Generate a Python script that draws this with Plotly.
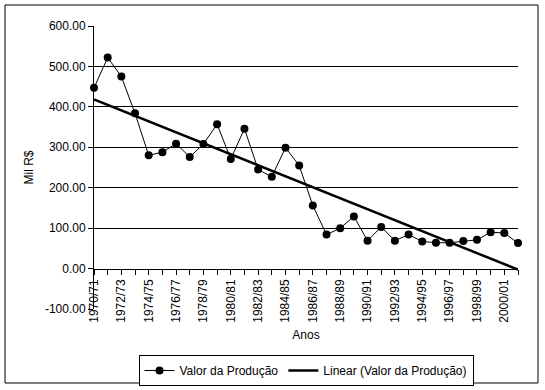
import numpy as np
import plotly.graph_objects as go

categories = [f"{y}/{str(y + 1)[-2:]}" for y in range(1970, 2002)]
valor = [447, 522, 475, 384, 280, 288, 309, 276, 308, 357, 271, 346, 245, 227,
         299, 255, 156, 84, 100, 129, 69, 103, 69, 84, 67, 64, 64, 68, 71, 90, 88, 63]
tick_text = [c if i % 2 == 0 else "" for i, c in enumerate(categories)]
y_ticks = [-100, 0, 100, 200, 300, 400, 500, 600]
grid_ticks = [100, 200, 300, 400, 500]

idx = np.arange(len(valor))
slope, intercept = np.polyfit(idx, valor, 1)
trend = slope * idx + intercept

FONT = "Liberation Sans, Arial, sans-serif"

fig = go.Figure()
fig.add_trace(go.Scatter(
    x=categories, y=valor, mode="lines+markers", name="Valor da Produção",
    line=dict(color="black", width=1),
    marker=dict(color="black", size=8, symbol="circle"),
    cliponaxis=False,
))
fig.add_trace(go.Scatter(
    x=categories, y=trend, mode="lines", name="Linear (Valor da Produção)",
    line=dict(color="black", width=2.5),
    cliponaxis=False,
))

L, R, T, B = 94, 518, 26, 309
W, H = 545, 390
pw, ph = R - L, B - T

def px(x):
    return (x - L) / pw

def py(y):
    return (B - y) / ph

fig.update_layout(
    width=W, height=H,
    margin=dict(l=L, r=W - R, t=T, b=H - B, pad=0, autoexpand=False),
    paper_bgcolor="white", plot_bgcolor="white",
    font=dict(family=FONT, size=12, color="black"),
    showlegend=True,
    legend=dict(
        orientation="h", x=0.5, xanchor="center", y=py(355), yanchor="top",
        bordercolor="black", borderwidth=1, bgcolor="white",
        font=dict(family=FONT, size=12), itemwidth=30,
    ),
    xaxis=dict(
        type="category", range=[0, len(categories) - 1],
        tickmode="array", tickvals=categories, ticktext=tick_text,
        tickangle=-90, ticks="outside", ticklen=5, tickcolor="black",
        showline=True, linecolor="black", linewidth=1,
        showgrid=False, zeroline=False, automargin=False,
        anchor="free", position=100 / 700,
        title=dict(text="Anos", standoff=8, font=dict(size=12)),
    ),
    yaxis=dict(
        range=[-100, 600], tickvals=y_ticks,
        ticktext=[f"{v:.2f}" for v in y_ticks],
        ticks="outside", ticklen=5, tickcolor="black",
        showline=True, linecolor="black", linewidth=1,
        showgrid=False, zeroline=False, automargin=False,
        title=dict(text="Mil R$", standoff=8, font=dict(size=12)),
    ),
    yaxis2=dict(
        range=[-100, 600], overlaying="y", tickvals=grid_ticks,
        showticklabels=False, showgrid=True, gridcolor="black", gridwidth=1,
        zeroline=False, showline=False, ticks="", automargin=False,
    ),
    shapes=[dict(
        type="rect", xref="paper", yref="paper",
        x0=px(5), x1=px(538), y0=py(383), y1=py(5),
        line=dict(color="black", width=1), fillcolor="rgba(0,0,0,0)", layer="above",
    )],
)
fig.add_trace(go.Scatter(x=[categories[0]], y=[None], yaxis="y2", showlegend=False,
                         hoverinfo="skip"))

fig.write_html("out.html", config={"displayModeBar": False},
               post_script="document.body.style.margin='0';")
